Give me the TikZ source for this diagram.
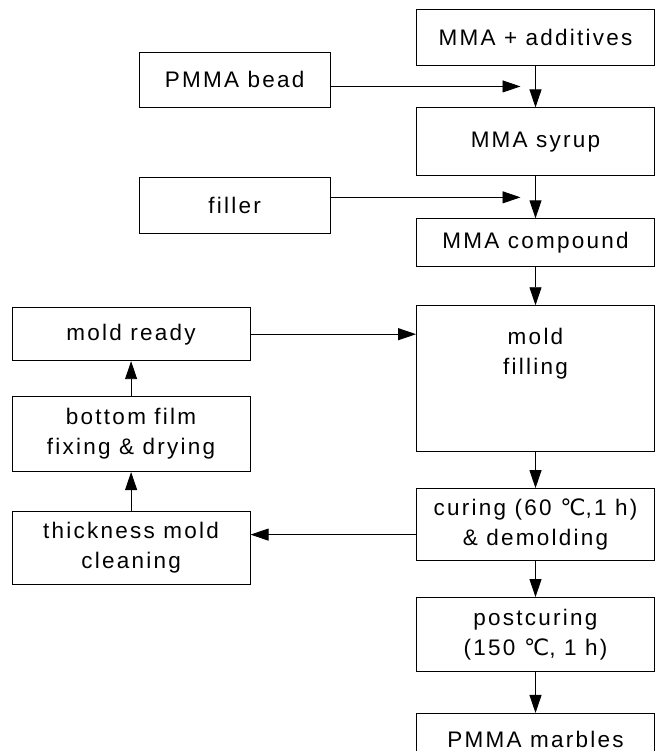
\documentclass[tikz,border=0pt]{standalone}
\usepackage{fontspec}
\setmainfont{Liberation Sans}[LetterSpace=10]
\newfontfamily\celfont{DejaVu Sans}
\usepackage{tikz}
\usetikzlibrary{
  arrows.meta,
  calc,
  positioning
}
\newcommand{\degc}{{\celfont ℃}}

\begin{document}
\begin{tikzpicture}[
  x=1pt,y=1pt,
  node distance=38pt,
  every node/.style={font=\fontsize{22.5}{30}\selectfont},
  box/.style={draw,line width=0.9pt,fill=white,align=center,
    minimum width=238pt,inner sep=2pt},
  feed/.style={box,minimum width=191pt},
  arrow/.style={-{Triangle[length=18pt,width=12pt]},line width=0.9pt}
]
\useasboundingbox (0,0) rectangle (667,-751);

% main line
\node[box,minimum height=56pt] (additives) at (535.5,-37) {MMA + additives};
\node[box,minimum height=68pt,below=42pt of additives] (syrup) {MMA syrup};
\node[box,minimum height=48pt,below=42pt of syrup] (compound) {MMA compound};
\node[box,minimum height=146pt,text depth=55pt,below=38pt of compound]
  (filling) {mold\\filling};
\node[box,minimum height=72pt,below=36pt of filling] (curing)
  {curing (60 \degc,1 h)\\\& demolding};
\node[box,minimum height=74pt,below=36pt of curing] (postcuring)
  {postcuring\\(150 \degc, 1 h)};
\node[box,minimum height=52pt,below=41pt of postcuring] (marbles)
  {PMMA marbles};

% feeds
\node[feed,minimum height=55pt,above left=0pt and 85.5pt of syrup] (bead)
  {PMMA bead};
\node[feed,minimum height=56pt,above left=-16pt and 85.5pt of compound]
  (filler) {filler};

% mold loop
\node[box,minimum height=53pt,below left=2pt and 165.5pt of filling.north west]
  (ready) {mold ready};
\node[box,minimum height=75pt,below=35pt of ready] (bottomfilm)
  {bottom film\\fixing \& drying};
\node[box,minimum height=73pt,below=39pt of bottomfilm] (cleaning)
  {thickness mold\\cleaning};

\coordinate (join1) at ($(additives.south)!0.5!(syrup.north)$);
\coordinate (join2) at ($(syrup.south)!0.5!(compound.north)$);

\draw[arrow] (additives) -- (syrup);
\draw[arrow] (syrup) -- (compound);
\draw[arrow] (compound) -- (filling);
\draw[arrow] (filling) -- (curing);
\draw[arrow] (curing) -- (postcuring);
\draw[arrow] (postcuring) -- (marbles);
\draw[arrow] (bead.east |- join1) -- ([xshift=-15pt]join1);
\draw[arrow] (filler.east |- join2) -- ([xshift=-15pt]join2);
\draw[arrow] (ready) -- (ready -| filling.west);
\draw[arrow] (cleaning) -- (bottomfilm);
\draw[arrow] (bottomfilm) -- (ready);
\draw[arrow] ([yshift=-10pt]curing.west) -- ([yshift=-10pt]curing.west -| cleaning.east);
\end{tikzpicture}
\end{document}
